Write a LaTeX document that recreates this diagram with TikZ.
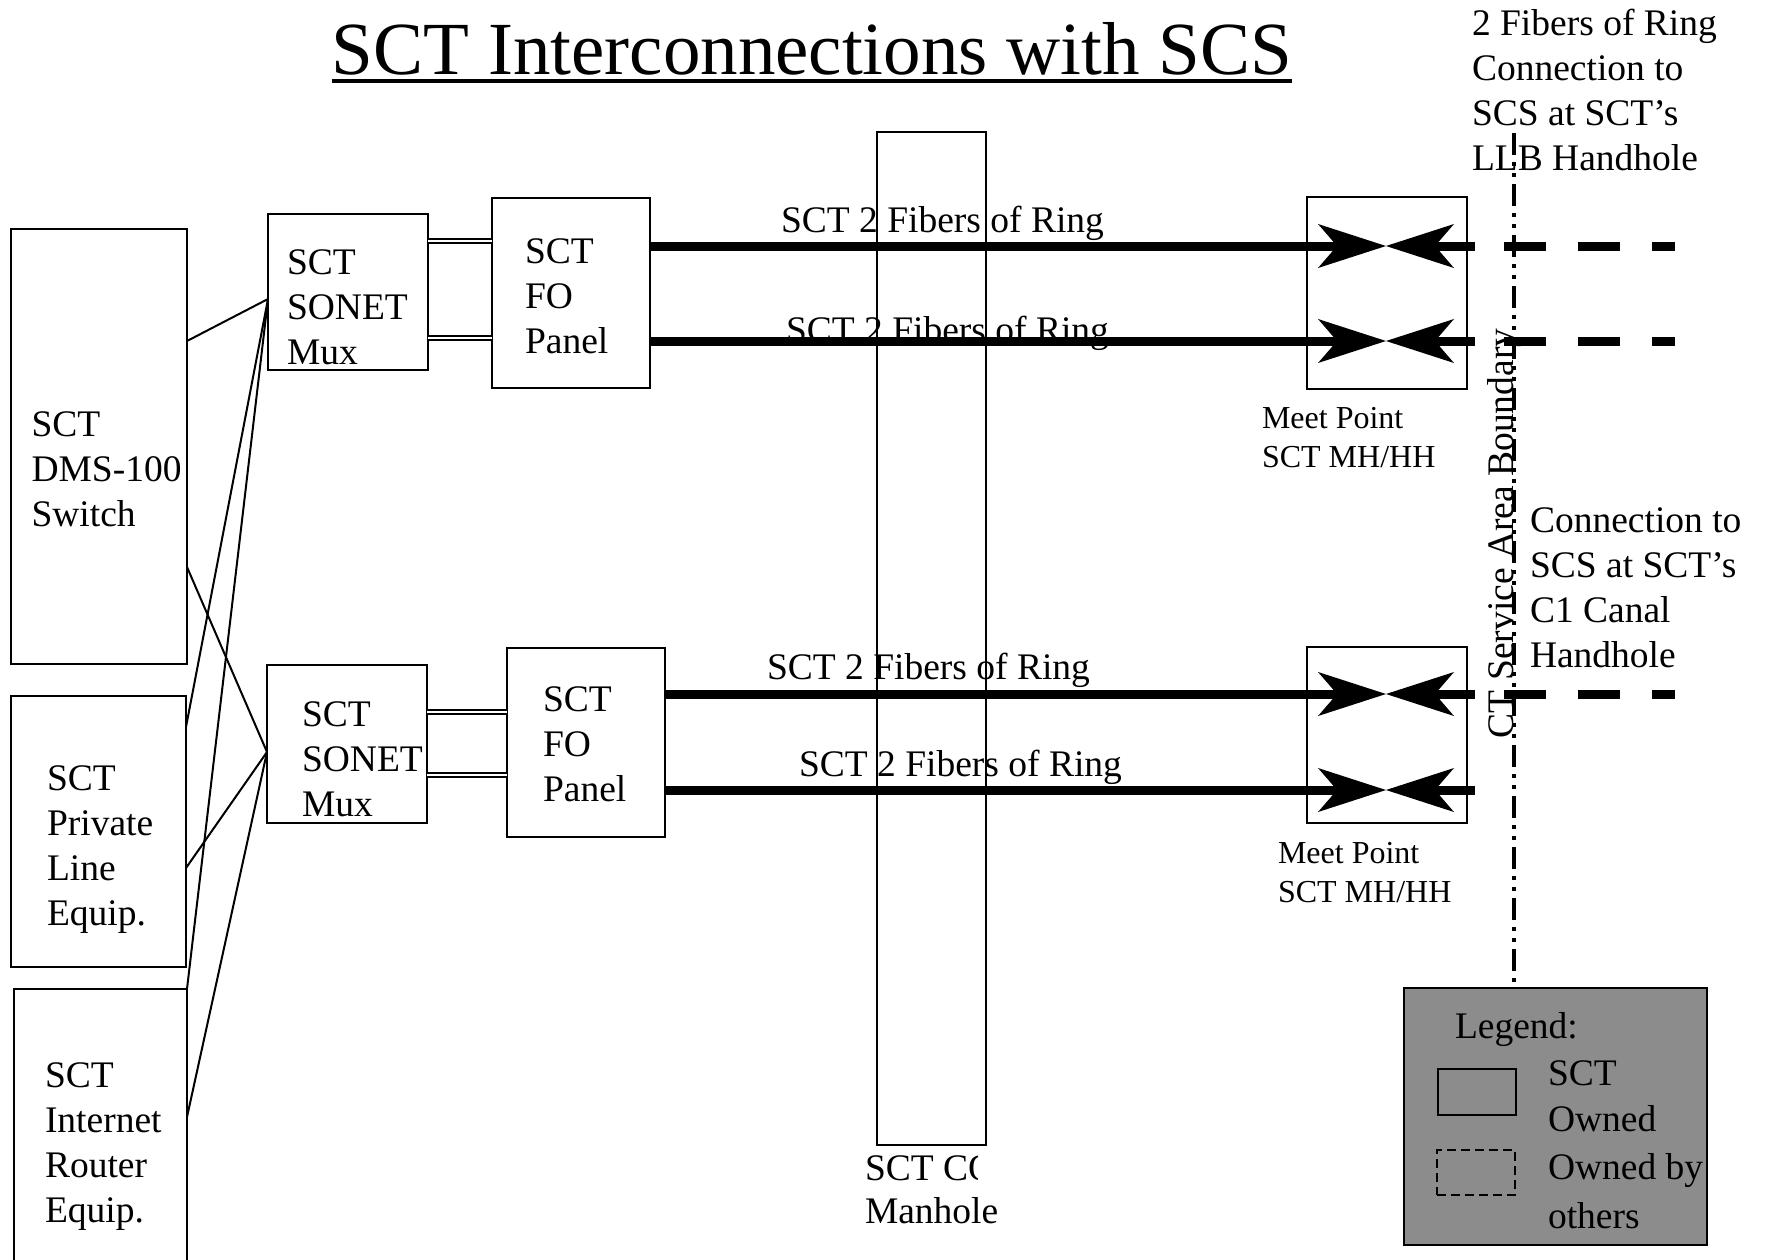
\documentclass[tikz,border=0pt]{standalone}
\usepackage{fontspec}
\setmainfont{Liberation Serif}
\usetikzlibrary{arrows.meta,calc}
\definecolor{legendgray}{RGB}{140,140,140}
\begin{document}
\begin{tikzpicture}[x=1pt,y=-1pt,
  every node/.style={inner sep=0pt, outer sep=0pt},
  box/.style={draw, line width=2.6pt, anchor=north west, inner sep=0pt},
  txt/.style={font=\fontsize{37.5}{45}\selectfont, align=left, anchor=west},
  lbl/.style={font=\fontsize{32}{39}\selectfont, align=left, anchor=west},
  wire/.style={line width=2pt},
  dbl/.style={double, double distance=2.6pt, line width=1.5pt},
  fiber/.style={line width=9pt, -{Stealth[length=68pt,width=44pt,inset=19pt,line width=0pt]}},
  dashfiber/.style={line width=9pt, dash pattern=on 42pt off 32pt},
  boundary/.style={line width=3.5pt, dash pattern=on 22pt off 7pt on 4pt off 7pt on 4pt off 7pt},
]
\useasboundingbox (0,0) rectangle (1767,1259);
\fill[white] (0,0) rectangle (1767,1259);
\clip (0,0) rectangle (1767,1259);

% title
\node[font=\fontsize{75}{80}\selectfont, anchor=base] (title) at (812,74) {SCT Interconnections with SCS};
\draw[line width=4pt] ($(title.base west)+(0,7)$) -- ($(title.base east)+(0,7)$);

% left boxes
\node[box, minimum width=176pt, minimum height=435pt] (dms) at (11,229) {};
\node[box, minimum width=175pt, minimum height=271pt] (priv) at (11,696) {};
\node[box, minimum width=173pt, minimum height=320pt] (inet) at (14,989) {};
\node[box, minimum width=160pt, minimum height=156pt] (mux1) at (268,214) {};
\node[box, minimum width=160pt, minimum height=158pt] (mux2) at (267,665) {};
\node[box, minimum width=158pt, minimum height=190pt] (fo1) at (492,198) {};
\node[box, minimum width=158pt, minimum height=189pt] (fo2) at (507,648) {};

\node[txt] (tdms) at (31.5,469) {SCT\\DMS-100\\Switch};
\node[txt] (tpriv) at (47,850) {SCT\\Private\\Line\\Equip.};
\node[txt] (tinet) at (45,1147) {SCT\\Internet\\Router\\Equip.};
\node[txt] (tmux1) at (287,307) {SCT\\SONET\\Mux};
\node[txt] (tmux2) at (302,759) {SCT\\SONET\\Mux};
\node[txt] (tfo1) at (525,296) {SCT\\FO\\Panel};
\node[txt] (tfo2) at (543,744) {SCT\\FO\\Panel};

% fiber labels (drawn before lines and manhole)
\node[txt, anchor=base west] (f1) at (781,232) {SCT 2 Fibers of Ring};
\node[txt, anchor=base west] (f2) at (786,342) {SCT 2 Fibers of Ring};
\node[txt, anchor=base west] (f3) at (767,679) {SCT 2 Fibers of Ring};
\node[txt, anchor=base west] (f4) at (799,776) {SCT 2 Fibers of Ring};

% manhole
\node[box, minimum width=109pt, minimum height=1013pt] (co) at (877,132) {};
\begin{scope}
  \clip (855,1140) rectangle (977,1195);
  \node[txt, anchor=base west] (co1) at (865,1180) {SCT CO};
\end{scope}
\node[txt, anchor=base west] (co2) at (865,1223) {Manhole};

% meet points
\node[box, minimum width=160pt, minimum height=192pt] (meet1) at (1307,197) {};
\node[box, minimum width=160pt, minimum height=176pt] (meet2) at (1307,647) {};
\node[lbl] (ml1) at (1262,438) {Meet Point\\SCT MH/HH};
\node[lbl] (ml2) at (1278,873) {Meet Point\\SCT MH/HH};

% right texts
\node[txt] (r1) at (1472,90) {2 Fibers of Ring\\Connection to\\SCS at SCT’s\\LLB Handhole};
\node[txt] (r2) at (1530,588) {Connection to\\SCS at SCT’s\\C1 Canal\\Handhole};
\node[txt, anchor=base west, rotate=90] (bnd) at (1513,738) {CT Service Area Boundary};

% thin connections
\coordinate (p1) at ($(mux1.west)+(0,7)$);
\coordinate (p2) at ($(mux2.west)+(0,8)$);
\draw[wire] ($(dms.north east)+(0,112)$) -- (p1);
\draw[wire] ($(priv.north east)+(0,31)$) -- (p1);
\draw[wire] (inet.north east) -- (p1);
\draw[wire] ($(dms.north east)+(0,338)$) -- (p2);
\draw[wire] ($(priv.north east)+(0,172)$) -- (p2);
\draw[wire] ($(inet.north east)+(0,128)$) -- (p2);

% double lines mux -> FO panel
\draw[dbl] ($(mux1.north east)+(0,27)$) -- ($(fo1.north west)+(0,43)$);
\draw[dbl] ($(mux1.north east)+(0,124)$) -- ($(fo1.north west)+(0,140)$);
\draw[dbl] ($(mux2.north east)+(0,47)$) -- ($(fo2.north west)+(0,64)$);
\draw[dbl] ($(mux2.north east)+(0,110)$) -- ($(fo2.north west)+(0,127)$);

% fiber rings
\coordinate (m1) at (1386,246); \coordinate (e1) at (1475,246);
\coordinate (m2) at (1386,341); \coordinate (e2) at (1475,341);
\coordinate (m3) at (1386,694); \coordinate (e3) at (1475,694);
\coordinate (m4) at (1386,790); \coordinate (e4) at (1475,790);
\draw[fiber] ($(fo1.north east)+(0,48)$) -- (m1);
\draw[fiber] ($(fo1.north east)+(0,143)$) -- (m2);
\draw[fiber] ($(fo2.north east)+(0,46)$) -- (m3);
\draw[fiber] ($(fo2.north east)+(0,142)$) -- (m4);
\draw[fiber] (e1) -- (m1);
\draw[fiber] (e2) -- (m2);
\draw[fiber] (e3) -- (m3);
\draw[fiber] (e4) -- (m4);

\coordinate (s1) at (1504,246); \coordinate (t1) at (1675,246);
\coordinate (s2) at (1504,341); \coordinate (t2) at (1675,341);
\coordinate (s3) at (1504,694); \coordinate (t3) at (1675,694);
\draw[dashfiber] (s1) -- (t1);
\draw[dashfiber] (s2) -- (t2);
\draw[dashfiber] (s3) -- (t3);

% legend
\node[box, fill=legendgray, minimum width=303pt, minimum height=257pt] (legend) at (1404,988) {};
\coordinate (bt) at (1514,133);
\draw[boundary] (bt) -- (bt |- legend.north);
\node[draw, line width=2.5pt, anchor=north west, minimum width=78pt, minimum height=46pt] (lsolid) at (1438,1069) {};
\node[draw, line width=2pt, dash pattern=on 9pt off 5pt, anchor=north west, minimum width=78pt, minimum height=45pt] (ldash) at (1437,1150) {};
\node[txt, anchor=base west] (lg) at (1455,1038) {Legend:};
\node[txt, anchor=base west] (lg1) at (1548,1085) {SCT};
\node[txt, anchor=base west] (lg2) at (1548,1131) {Owned};
\node[txt, anchor=base west] (lg3) at (1548,1179) {Owned by};
\node[txt, anchor=base west] (lg4) at (1548,1228) {others};
\end{tikzpicture}
\end{document}
